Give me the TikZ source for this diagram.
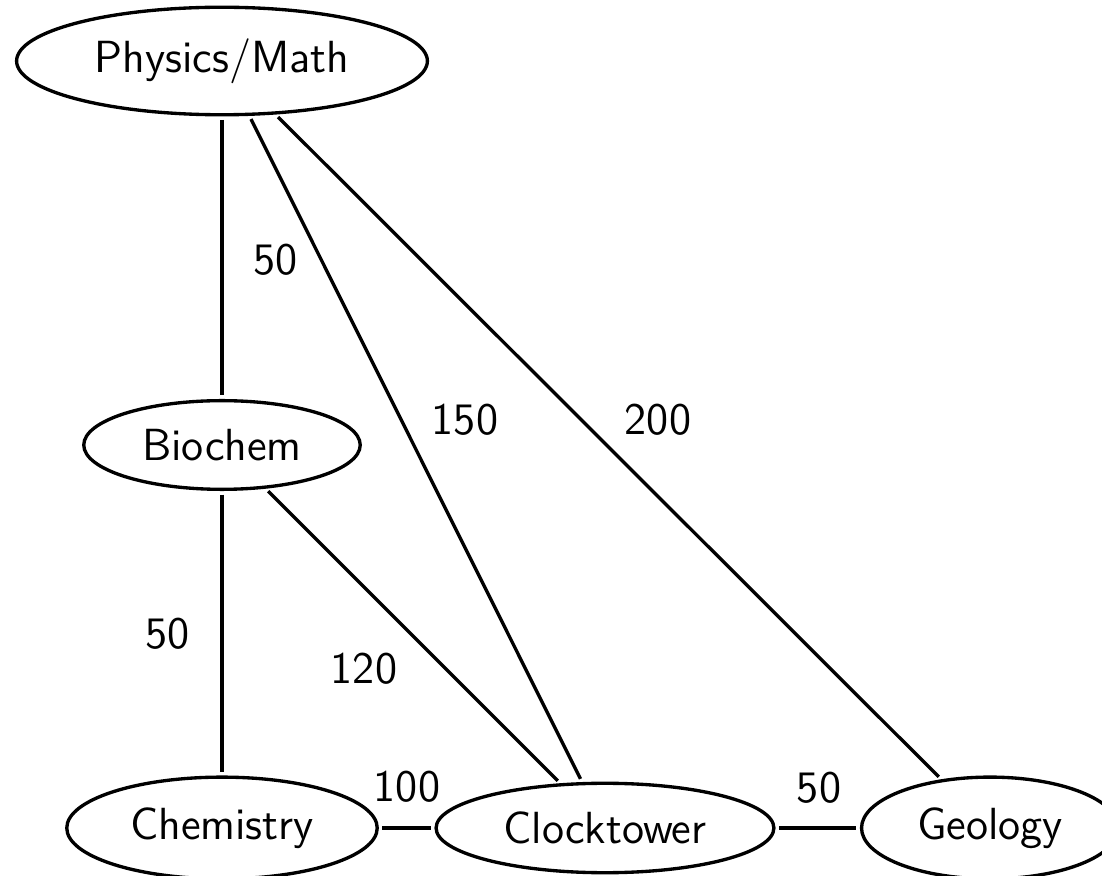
\documentclass[tikz,border=0pt]{standalone}
\usetikzlibrary{shapes.geometric}
\begin{document}
\begin{tikzpicture}[
    x=0.01cm, y=-0.01cm,
    font=\sffamily\fontsize{12.8}{15}\selectfont,
    place/.style={draw, black, ellipse, line width=0.95pt, inner xsep=0.18cm, inner ysep=0.155cm},
    road/.style={draw, black, line width=0.95pt, shorten >=1pt, shorten <=1pt},
    dist/.style={inner sep=0pt},
  ]
  \useasboundingbox (0,0) rectangle (1102,876);

  % ---- edificios ----
  \node[place] (phys) at (222,61) {Physics/Math};
  \node[place] (bio) at (222,445) {Biochem};
  \node[place] (chem) at (222,828) {Chemistry};
  \node[place] (clock) at (605,828) {Clocktower};
  \node[place] (geo) at (990,828) {Geology};

  % ---- caminos ----
  \draw[road] (phys) -- (bio);
  \draw[road] (phys) -- (clock);
  \draw[road] (phys) -- (geo);
  \draw[road] (bio) -- (chem);
  \draw[road] (bio) -- (clock);
  \draw[road] (chem) -- (clock);
  \draw[road] (clock) -- (geo);

  % ---- distancias ----
  \node[dist] (dPB) at (276,260) {50};
  \node[dist] (dPC) at (465,420) {150};
  \node[dist] (dPG) at (658,420) {200};
  \node[dist] (dBH) at (168,634) {50};
  \node[dist] (dBC) at (364,669) {120};
  \node[dist] (dHC) at (407,787) {100};
  \node[dist] (dCG) at (819,788) {50};
\end{tikzpicture}
\end{document}
